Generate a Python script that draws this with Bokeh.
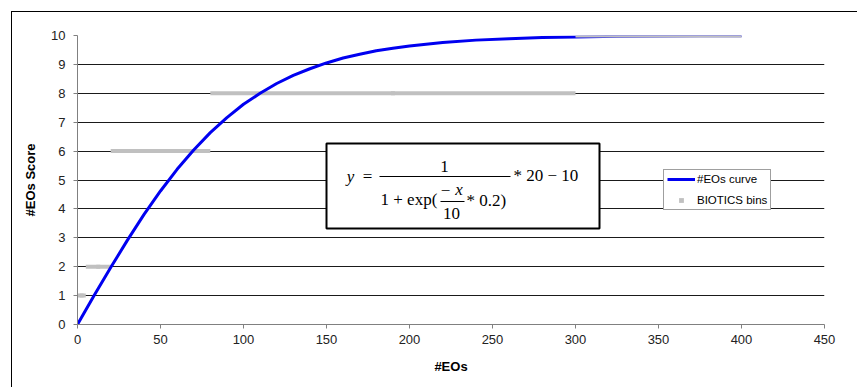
from bokeh.plotting import figure
from bokeh.models import Range1d, FixedTicker, Legend, LegendItem, BoxAnnotation, Label
from bokeh.embed import file_html
from bokeh.resources import INLINE

# ---- data ----
x_curve = [0, 10, 20, 30, 40, 50, 60, 70, 80, 90, 100, 110, 120, 130, 140, 150,
           160, 170, 180, 190, 200, 220, 240, 260, 280, 300, 325, 350, 375, 400]
y_curve = [0.0, 1.0, 1.97, 2.91, 3.80, 4.62, 5.37, 6.04, 6.64, 7.16, 7.62, 8.0, 8.34,
           8.62, 8.85, 9.05, 9.22, 9.35, 9.47, 9.56, 9.64, 9.76, 9.84, 9.89, 9.93,
           9.95, 9.97, 9.98, 9.99, 9.99]
bin_start = [0, 5, 20, 80, 300]
bin_end = [5, 20, 80, 300, 400]
bin_score = [1, 2, 6, 8, 10]
x_ticks = [0, 50, 100, 150, 200, 250, 300, 350, 400, 450]
y_ticks = [0, 1, 2, 3, 4, 5, 6, 7, 8, 9, 10]

bin_mid = [(a + b) / 2 for a, b in zip(bin_start, bin_end)]

# frame geometry in screenshot pixels (used for annotation placement only)
FL, FR, FT, FB = 77, 824, 35, 324
XMAX, YMAX = 450, 10


def dx(px):
    return (px - FL) / (FR - FL) * XMAX


def dy(py):
    return (FB - py) / (FB - FT) * YMAX


p = figure(width=846, height=376, output_backend="svg", toolbar_location=None,
           x_range=Range1d(0, XMAX), y_range=Range1d(0, YMAX),
           min_border_left=65, min_border_right=34, min_border_top=23, min_border_bottom=64)
p.styles = {"margin-left": "11px", "margin-top": "11px",
            "border-left": "1px solid #000", "border-top": "1px solid #000"}
p.outline_line_color = None
p.background_fill_color = "white"
p.border_fill_color = "white"

p.xgrid.visible = False
p.ygrid.ticker = FixedTicker(ticks=y_ticks)
p.ygrid.grid_line_color = "#1a1a1a"
p.ygrid.grid_line_width = 1

for ax, ticks in ((p.xaxis, x_ticks), (p.yaxis, y_ticks)):
    ax.ticker = FixedTicker(ticks=ticks)
    ax.axis_line_color = "#808080"
    ax.major_tick_line_color = "#808080"
    ax.minor_tick_line_color = None
    ax.major_tick_in = 0
    ax.major_tick_out = 4
    ax.major_label_text_font = "Liberation Sans"
    ax.major_label_text_font_size = "13px"
    ax.major_label_text_color = "#222222"
    ax.axis_label_text_font = "Liberation Sans"
    ax.axis_label_text_font_size = "13px"
    ax.axis_label_text_font_style = "bold"
    ax.axis_label_text_color = "#000000"

p.xaxis.axis_label = "#EOs"
p.yaxis.axis_label = "#EOs Score"
p.xaxis.major_label_standoff = 6
p.yaxis.major_label_standoff = 8
p.xaxis.axis_label_standoff = 12
p.yaxis.axis_label_standoff = 10

GRAY = "#c0c0c0"
# bin points (for the legend marker) hidden beneath the bin segments
bins_pts = p.scatter(x=bin_mid[:-1], y=bin_score[:-1], marker="square", size=4,
                     fill_color=GRAY, line_color=None)
# lower bins drawn under the curve, top bin over it
p.segment(x0=bin_start[:-1], y0=bin_score[:-1], x1=bin_end[:-1], y1=bin_score[:-1],
          line_color=GRAY, line_width=4)
curve = p.line(x_curve, y_curve, line_color="#0000f0", line_width=3)
p.segment(x0=bin_start[-1:], y0=bin_score[-1:], x1=bin_end[-1:], y1=bin_score[-1:],
          line_color=GRAY, line_width=4)

legend = Legend(items=[LegendItem(label="#EOs curve", renderers=[curve]),
                       LegendItem(label="BIOTICS bins", renderers=[bins_pts])],
                location=(586, 114))
legend.label_text_font = "Liberation Sans"
legend.label_text_font_size = "11.5px"
legend.label_text_color = "#000000"
legend.glyph_width = 28
legend.glyph_height = 12
legend.label_height = 12
legend.label_standoff = 2
legend.spacing = 9
legend.padding = 3
legend.margin = 0
legend.border_line_color = "#404040"
legend.border_line_width = 1
legend.background_fill_color = "white"
legend.background_fill_alpha = 1
p.add_layout(legend)

# ---- equation box ----
p.add_layout(BoxAnnotation(left=dx(326), right=dx(599), top=dy(143), bottom=dy(228),
                           fill_color="white", fill_alpha=1,
                           line_color="black", line_width=2, line_alpha=1))
p.add_layout(BoxAnnotation(left=dx(379), right=dx(510), top=dy(175.5), bottom=dy(176.5),
                           fill_color="black", fill_alpha=1, line_color=None))
p.add_layout(BoxAnnotation(left=dx(440), right=dx(464), top=dy(200.5), bottom=dy(201.5),
                           fill_color="black", fill_alpha=1, line_color=None))


def eq(px, py, text, align="center", style="normal"):
    p.add_layout(Label(x=dx(px), y=dy(py), text=text, text_font="Liberation Serif",
                       text_font_size="17px", text_align=align, text_baseline="middle",
                       text_font_style=style, text_color="black"))


eq(350, 176, "y", style="italic")
eq(367, 176, "=")
eq(444, 166, "1")
eq(380, 199, "1 + exp(", align="left")
eq(445, 190, "\u2212")
eq(458.5, 189, "x", style="italic")
eq(451, 213, "10")
eq(466, 200, "* 0.2)", align="left")
eq(513, 175, "* 20 \u2212 10", align="left")

open("out.html", "w").write(file_html(p, INLINE))
